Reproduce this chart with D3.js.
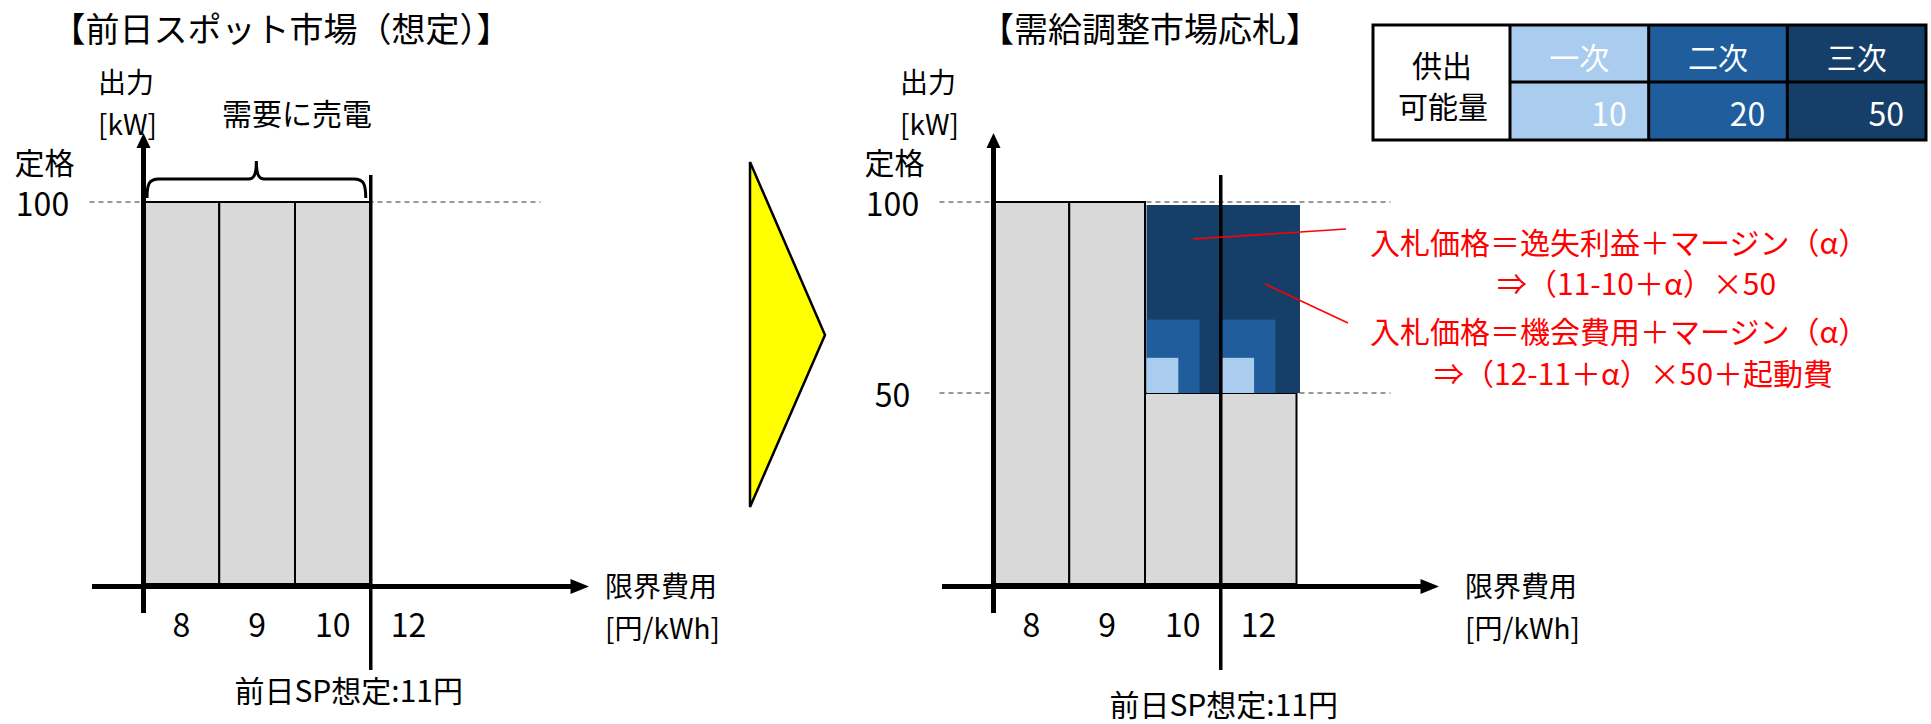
<!DOCTYPE html>
<html lang="ja">
<head>
<meta charset="UTF-8">
<title>前日スポット市場と需給調整市場応札</title>
<script src="https://cdn.jsdelivr.net/npm/d3@7"></script>
<style>
  body { margin: 0; background: #fff; }
  svg { display: block; font-family: "Noto Sans CJK JP", "Noto Sans", sans-serif; }
</style>
</head>
<body>
<svg id="chart"></svg>
<script>
// DATA
const prices = ["8", "9", "10", "12"];        // 限界費用 [円/kWh]
const spotOutput = [100, 100, 100, 0];        // 前日スポット: 需要に売電
const bidOutput = [100, 100, 50, 50];         // 需給調整: スポットに残す出力
const reserveBars = ["10", "12"];             // 調整力を出すユニット
const reserveNames = ["一次", "二次", "三次"];
const reserveAmounts = [10, 20, 50];
const bidBase = 50;
const yTicks = [100, 50];
const spBoundary = "12";                      // SP想定 11円 = 10 と 12 の間
const bidNotes = [
  "入札価格＝逸失利益＋マージン（α）",
  "⇒（11-10＋α）×50",
  "入札価格＝機会費用＋マージン（α）",
  "⇒（12-11＋α）×50＋起動費"
];

// STYLE
const reserveColors = ["#AACCEE", "#1F5D9C", "#153E69"];
const reserveWidths = [0.42, 0.7, 1];
const barFill = "#D9D9D9";
const fs = 30;      // body text
const fsNum = 32;   // digits run a bit larger in the original
const fsUnit = 28;  // two-line axis titles

const W = 1931, H = 724;
const svg = d3.select("#chart").attr("width", W).attr("height", H);

// shared vertical scale
const y = d3.scaleLinear().domain([0, 100]).range([584, 202]);

// two panels, same layout shifted to the right
const panels = [
  {dx: 0, title: "【前日スポット市場（想定）】", titleX: 281, values: spotOutput,
   ticks: [100], unitX: 98, axisLabelX: 605, spDx: -22, spY: 689, reserve: false},
  {dx: 850, title: "【需給調整市場応札】", titleX: 1150, values: bidOutput,
   ticks: yTicks, unitX: 900, axisLabelX: 1465, spDx: 3, spY: 703, reserve: true}
];

panels.forEach(p => drawPanel(p));

function drawPanel(p) {
  const g = svg.append("g");
  const x = d3.scaleBand().domain(prices).range([143.5 + p.dx, 446.5 + p.dx]);
  const x0 = x.range()[0];

  // title
  g.append("text").attr("x", p.titleX).attr("y", 27)
    .attr("text-anchor", "middle").attr("dominant-baseline", "central")
    .attr("font-size", 34).text(p.title);

  // dashed guides
  g.selectAll(".guide").data(p.ticks).join("line")
    .attr("x1", x0 - 54).attr("x2", x0 + 397)
    .attr("y1", d => y(d)).attr("y2", d => y(d))
    .attr("stroke", "#333").attr("stroke-width", 1.2)
    .attr("stroke-dasharray", "5,4");

  // bars
  const bars = prices.map((k, i) => ({k, v: p.values[i]})).filter(d => d.v > 0);
  g.selectAll(".bar").data(bars).join("rect")
    .attr("x", d => x(d.k)).attr("width", x.bandwidth())
    .attr("y", d => y(d.v)).attr("height", d => y(0) - y(d.v))
    .attr("fill", barFill).attr("stroke", "#000").attr("stroke-width", 2);

  // reserve offers stacked on the 50 kW base
  if (p.reserve) {
    const blocks = [];
    reserveBars.forEach(b => {
      [2, 1, 0].forEach(i => blocks.push({b, i, v: reserveAmounts[i]}));
    });
    g.selectAll(".res").data(blocks).join("rect")
      .attr("x", d => x(d.b) + 1.5)
      .attr("width", d => x.bandwidth() * reserveWidths[d.i] + (d.i === 2 ? 2 : 0))
      .attr("y", d => y(bidBase + d.v) + 3)
      .attr("height", d => y(bidBase) - y(bidBase + d.v) - 3)
      .attr("fill", d => reserveColors[d.i]);
  }

  // axes
  const axisY = y(0) + 2.5;
  g.append("line").attr("x1", x0).attr("x2", x0).attr("y1", 613).attr("y2", 145)
    .attr("stroke", "#000").attr("stroke-width", 5);
  g.append("path").attr("d", `M${x0 - 7},148 L${x0 + 7},148 L${x0},133 Z`).attr("fill", "#000");
  g.append("line").attr("x1", x0 - 51.5).attr("x2", x0 + 430).attr("y1", axisY).attr("y2", axisY)
    .attr("stroke", "#000").attr("stroke-width", 5);
  g.append("path")
    .attr("d", `M${x0 + 427},${axisY - 7.5} L${x0 + 445.5},${axisY} L${x0 + 427},${axisY + 7.5} Z`)
    .attr("fill", "#000");

  // spot price line
  const xs = x(spBoundary);
  g.append("line").attr("x1", xs).attr("x2", xs).attr("y1", 175).attr("y2", 670)
    .attr("stroke", "#000").attr("stroke-width", 3.5);
  g.append("text").attr("x", xs + p.spDx).attr("y", p.spY)
    .attr("text-anchor", "middle").attr("dominant-baseline", "central")
    .attr("font-size", fs).text("前日SP想定:11円");

  // tick labels
  g.selectAll(".xt").data(prices).join("text")
    .attr("x", d => x(d) + x.bandwidth() / 2).attr("y", 623)
    .attr("text-anchor", "middle").attr("dominant-baseline", "central")
    .attr("font-size", fsNum).text(d => d);
  g.append("text").attr("x", x0 - 99).attr("y", 161)
    .attr("text-anchor", "middle").attr("dominant-baseline", "central")
    .attr("font-size", fs).text("定格");
  g.selectAll(".yt").data(p.ticks).join("text")
    .attr("x", x0 - 101).attr("y", d => y(d))
    .attr("text-anchor", "middle").attr("dominant-baseline", "central")
    .attr("font-size", fsNum).text(d => d);

  // axis titles
  g.append("text").attr("x", p.unitX).attr("y", 81).attr("dominant-baseline", "central")
    .attr("font-size", fsUnit).text("出力");
  g.append("text").attr("x", p.unitX).attr("y", 123).attr("dominant-baseline", "central")
    .attr("font-size", fsUnit).text("[kW]");
  g.append("text").attr("x", p.axisLabelX).attr("y", 585).attr("dominant-baseline", "central")
    .attr("font-size", fsUnit).text("限界費用");
  g.append("text").attr("x", p.axisLabelX).attr("y", 627).attr("dominant-baseline", "central")
    .attr("font-size", fsUnit).text("[円/kWh]");

  if (!p.reserve) {
    // brace over the bars sold to demand
    const bx0 = x0 + 3.5, bx1 = xs - 5, bm = (bx0 + bx1) / 2;
    g.append("path")
      .attr("d", `M${bx0},198 C${bx0},184 ${bx0 + 2},179 ${bx0 + 12},179 H${bm - 8}` +
                 ` C${bm - 3},179 ${bm},176 ${bm},161 C${bm},176 ${bm + 3},179 ${bm + 8},179` +
                 ` H${bx1 - 12} C${bx1 - 2},179 ${bx1},184 ${bx1},198`)
      .attr("fill", "none").attr("stroke", "#000").attr("stroke-width", 3);
    g.append("text").attr("x", 297).attr("y", 112)
      .attr("text-anchor", "middle").attr("dominant-baseline", "central")
      .attr("font-size", fs).text("需要に売電");
  } else {
    // annotation leaders and notes
    const leaders = [[1193, 239, 1346, 229], [1265, 284, 1348, 323]];
    g.selectAll(".lead").data(leaders).join("line")
      .attr("x1", d => d[0]).attr("y1", d => d[1]).attr("x2", d => d[2]).attr("y2", d => d[3])
      .attr("stroke", "#FF0000").attr("stroke-width", 1.6);
    const notePos = [[1370, 241], [1497, 282], [1370, 330], [1434, 372]];
    g.selectAll(".note").data(bidNotes).join("text")
      .attr("x", (d, i) => notePos[i][0]).attr("y", (d, i) => notePos[i][1])
      .attr("dominant-baseline", "central")
      .attr("font-size", fs).attr("fill", "#FF0000").text(d => d);
  }
}

// arrow between panels
svg.append("path").attr("d", "M750,162 L825,335 L750,507 Z")
  .attr("fill", "#FFFF00").attr("stroke", "#000").attr("stroke-width", 2.5)
  .attr("stroke-linejoin", "miter");

// reserve capacity table
const tx = d3.scaleBand().domain(reserveNames).range([1510, 1926]);
const tTop = 25, tMid = 82, tBot = 140;
const table = svg.append("g");
table.selectAll(".cell").data(reserveNames).join("rect")
  .attr("x", d => tx(d)).attr("width", tx.bandwidth())
  .attr("y", tTop).attr("height", tBot - tTop)
  .attr("fill", (d, i) => reserveColors[i]);
table.append("rect").attr("x", 1373).attr("y", tTop).attr("width", 1926 - 1373).attr("height", tBot - tTop)
  .attr("fill", "none").attr("stroke", "#000").attr("stroke-width", 3);
table.append("line").attr("x1", 1510).attr("x2", 1926).attr("y1", tMid).attr("y2", tMid)
  .attr("stroke", "#000").attr("stroke-width", 3);
table.selectAll(".vdiv").data(reserveNames).join("line")
  .attr("x1", d => tx(d)).attr("x2", d => tx(d)).attr("y1", tTop).attr("y2", tBot)
  .attr("stroke", "#000").attr("stroke-width", 3);
table.selectAll(".hdr").data(reserveNames).join("text")
  .attr("x", d => tx(d) + tx.bandwidth() / 2).attr("y", 56)
  .attr("text-anchor", "middle").attr("dominant-baseline", "central")
  .attr("font-size", fs).attr("fill", "#fff").text(d => d);
table.selectAll(".val").data(reserveAmounts).join("text")
  .attr("x", (d, i) => tx(reserveNames[i]) + tx.bandwidth() - 22).attr("y", 112)
  .attr("text-anchor", "end").attr("dominant-baseline", "central")
  .attr("font-size", fsNum).attr("fill", "#fff").text(d => d);
table.append("text").attr("x", 1442).attr("y", 64)
  .attr("text-anchor", "middle").attr("dominant-baseline", "central")
  .attr("font-size", fs).text("供出");
table.append("text").attr("x", 1443).attr("y", 105)
  .attr("text-anchor", "middle").attr("dominant-baseline", "central")
  .attr("font-size", fs).text("可能量");
</script>
</body>
</html>
